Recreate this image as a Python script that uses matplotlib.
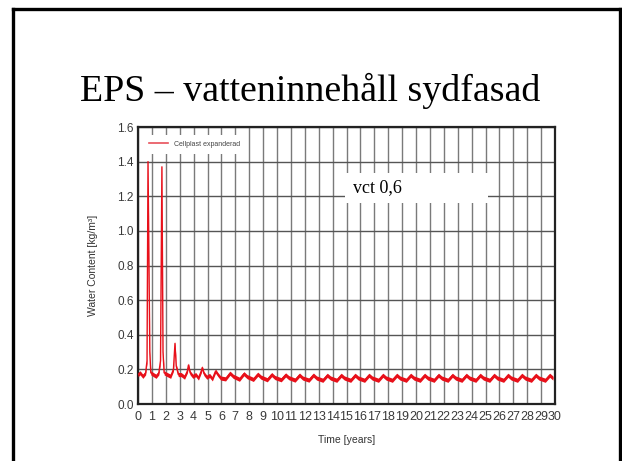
# EPS - vatteninnehåll sydfasad (slide with WUFI-like chart)
import numpy as np
import matplotlib
matplotlib.use("Agg")
import matplotlib.pyplot as plt
from matplotlib.lines import Line2D
from matplotlib.patches import Rectangle

# === Data ===
time_yr = [
    0.00, 0.15, 0.35, 0.55, 0.65, 0.72, 0.85, 0.92,
    1.10, 1.30, 1.50, 1.62, 1.72, 1.80, 1.88,
    2.10, 2.35, 2.55, 2.66, 2.75, 2.90,
    3.10, 3.35, 3.55, 3.63, 3.75, 3.95,
    4.15, 4.35, 4.55, 4.62, 4.75, 4.95,
    5.15, 5.35, 5.58, 5.75, 5.95,
    6.30, 6.62, 6.85,
    7.30, 7.62, 7.85,
    8.30, 8.62, 8.85,
    9.30, 9.62, 9.85,
    10.30, 10.62, 10.85,
    11.30, 11.62, 11.85,
    12.30, 12.62, 12.85,
    13.30, 13.62, 13.85,
    14.30, 14.62, 14.85,
    15.30, 15.62, 15.85,
    16.30, 16.62, 16.85,
    17.30, 17.62, 17.85,
    18.30, 18.62, 18.85,
    19.30, 19.62, 19.85,
    20.30, 20.62, 20.85,
    21.30, 21.62, 21.85,
    22.30, 22.62, 22.85,
    23.30, 23.62, 23.85,
    24.30, 24.62, 24.85,
    25.30, 25.62, 25.85,
    26.30, 26.62, 26.85,
    27.30, 27.62, 27.85,
    28.30, 28.62, 28.85,
    29.30, 29.62, 29.85,
]
water_content = [
    0.17, 0.18, 0.16, 0.18, 0.25, 1.40, 0.30, 0.18,
    0.17, 0.16, 0.18, 0.25, 1.37, 0.30, 0.18,
    0.17, 0.16, 0.20, 0.35, 0.22, 0.17,
    0.17, 0.155, 0.19, 0.225, 0.18, 0.16,
    0.17, 0.15, 0.19, 0.21, 0.175, 0.155,
    0.165, 0.145, 0.19, 0.17, 0.15,
    0.145, 0.178, 0.16,
    0.143, 0.175, 0.158,
    0.142, 0.172, 0.155,
    0.14, 0.17, 0.153,
    0.14, 0.168, 0.152,
    0.138, 0.167, 0.15,
    0.138, 0.167, 0.15,
    0.137, 0.166, 0.15,
    0.137, 0.166, 0.15,
    0.137, 0.166, 0.15,
    0.137, 0.166, 0.15,
    0.137, 0.166, 0.15,
    0.137, 0.166, 0.15,
    0.137, 0.166, 0.15,
    0.137, 0.166, 0.15,
    0.137, 0.166, 0.15,
    0.137, 0.166, 0.15,
    0.137, 0.166, 0.15,
    0.137, 0.166, 0.15,
    0.137, 0.166, 0.15,
    0.137, 0.166, 0.15,
    0.137, 0.166, 0.15,
    0.137, 0.166, 0.15,
    0.137, 0.166, 0.15,
]
x_ticks = list(range(0, 31))
y_ticks = [0.0, 0.2, 0.4, 0.6, 0.8, 1.0, 1.2, 1.4, 1.6]

title = "EPS – vatteninnehåll sydfasad"
series_label = "Cellplast expanderad"
note = "vct 0,6"

# === Figure / slide ===
fig = plt.figure(figsize=(6.22, 4.61), dpi=100)
fig.patch.set_facecolor("white")

# slide border (left, top, right)
fx0, fx1, fy1 = 12.5 / 622, 619.5 / 622, 1 - 9.5 / 461
for xs, ys in [([fx0, fx0], [0, fy1]), ([fx0, fx1], [fy1, fy1]), ([fx1, fx1], [fy1, 0])]:
    fig.add_artist(Line2D(xs, ys, color="black", lw=2.4, transform=fig.transFigure))

fig.text(310 / 622, 1 - 101 / 461, title, ha="center", va="baseline",
         family="Liberation Serif", fontsize=27.3)

ax = fig.add_axes([138 / 622, 1 - 404 / 461, 417 / 622, 277 / 461])
t = np.array(time_yr)
w = np.array(water_content)

# thick band for the daily wiggle, thin line on top
ax.fill_between(t, w - 0.012, w + 0.012, color="#e8101a", lw=0, zorder=3)
ax.plot(t, w, color="#e8101a", lw=1.0, zorder=4, label=series_label)

ax.set_xlim(0, 30)
ax.set_ylim(0, 1.6)
ax.set_xticks(x_ticks)
ax.set_yticks(y_ticks)
ax.set_yticklabels([f"{v:.1f}" for v in y_ticks])
ax.tick_params(axis="both", length=0, colors="#3a3a3a")
ax.tick_params(axis="x", pad=5, labelsize=9)
ax.tick_params(axis="y", pad=3, labelsize=8.5)
for lab in ax.get_xticklabels() + ax.get_yticklabels():
    lab.set_family("Liberation Sans")

ax.xaxis.grid(True, color="#7a7a7a", lw=1.0, zorder=1)
ax.yaxis.grid(True, color="#555555", lw=1.0, zorder=1)
ax.set_axisbelow(True)
for sp in ax.spines.values():
    sp.set_color("#222222")
    sp.set_linewidth(1.6)

ax.set_xlabel("Time [years]", family="Liberation Sans", fontsize=7.5,
              color="#333333", labelpad=9)
ax.set_ylabel("Water Content [kg/m³]", family="Liberation Sans", fontsize=7.5,
              color="#333333", labelpad=14)

leg = ax.legend(loc="upper left", bbox_to_anchor=(0.002, 0.985),
                frameon=True, fancybox=False, handlelength=2.8, borderpad=0.9,
                prop={"family": "Liberation Sans", "size": 5})
leg.get_frame().set_facecolor("white")
leg.get_frame().set_edgecolor("none")
leg.get_frame().set_alpha(1)
for h in leg.get_lines():
    h.set_color("#e8505a")
    h.set_linewidth(1.2)
for txt in leg.get_texts():
    txt.set_color("#444444")

# white note box
ax.add_patch(Rectangle((0.496, 0.726), 0.343, 0.108, transform=ax.transAxes,
                       facecolor="white", edgecolor="none", zorder=5))
ax.text(0.516, 0.78, note, transform=ax.transAxes, va="center", ha="left",
        family="Liberation Serif", fontsize=13, zorder=6)

fig.savefig("out.png", dpi=100)
